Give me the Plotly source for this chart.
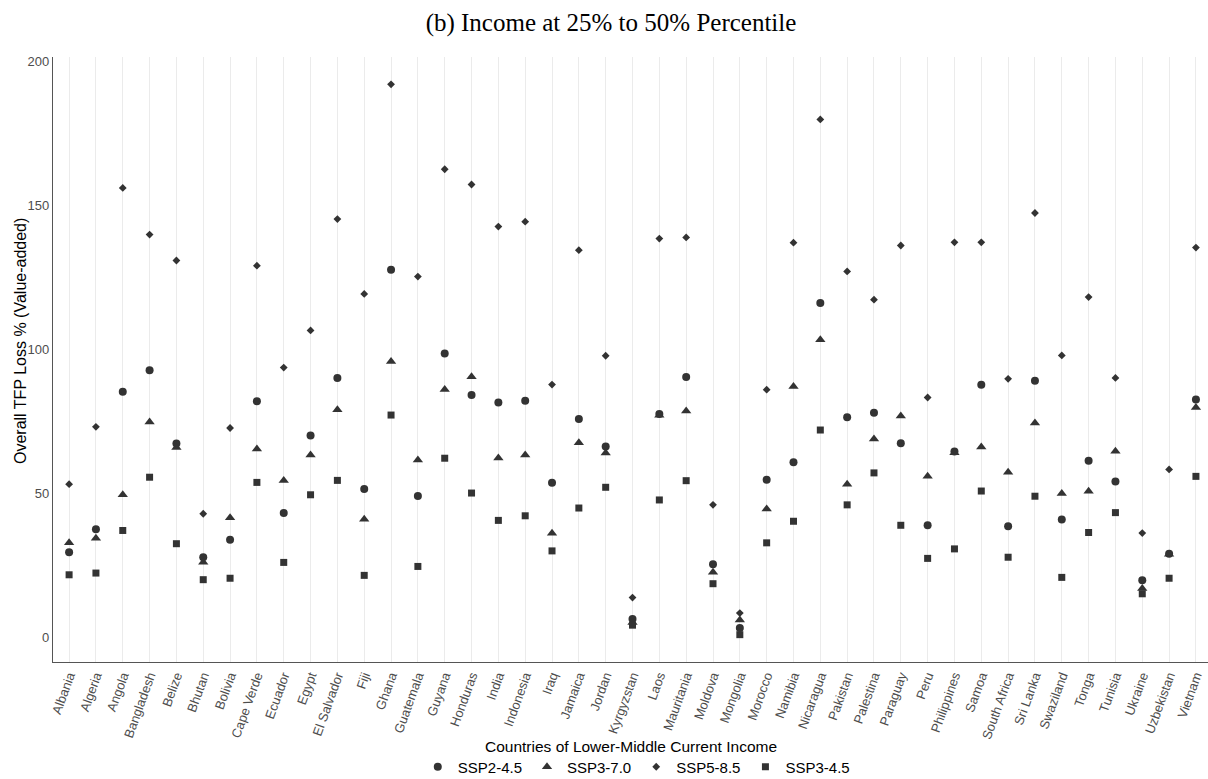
import plotly.graph_objects as go

countries = [
    "Albania", "Algeria", "Angola", "Bangladesh", "Belize", "Bhutan", "Bolivia",
    "Cape Verde", "Ecuador", "Egypt", "El Salvador", "Fiji", "Ghana", "Guatemala",
    "Guyana", "Honduras", "India", "Indonesia", "Iraq", "Jamaica", "Jordan",
    "Kyrgyzstan", "Laos", "Mauritania", "Moldova", "Mongolia", "Morocco", "Namibia",
    "Nicaragua", "Pakistan", "Palestina", "Paraguay", "Peru", "Philippines", "Samoa",
    "South Africa", "Sri Lanka", "Swaziland", "Tonga", "Tunisia", "Ukraine",
    "Uzbekistan", "Vietnam",
]

ssp2_45 = [
    29.6, 37.6, 85.4, 92.9, 67.4, 27.9, 34.0, 82.1, 43.3, 70.2, 90.2, 51.6, 127.8, 49.2,
    98.7, 84.3, 81.7, 82.3, 53.8, 75.9, 66.4, 6.4, 77.7, 90.5, 25.5, 3.3, 54.8, 60.9,
    116.2, 76.5, 78.1, 67.5, 39.0, 64.6, 87.8, 38.7, 89.2, 41.0, 61.4, 54.2, 19.9,
    29.1, 82.7,
]

ssp3_70 = [
    32.9, 34.5, 49.6, 74.9, 66.0, 26.2, 41.6, 65.5, 54.6, 63.4, 79.1, 41.1, 95.9, 61.7,
    86.2, 90.6, 62.4, 63.4, 36.2, 67.7, 64.1, 5.2, 77.2, 78.7, 22.7, 6.1, 44.7, 87.2,
    103.5, 53.3, 69.0, 77.0, 56.0, 64.2, 66.2, 57.4, 74.5, 50.0, 50.8, 64.7, 17.0,
    28.9, 79.9,
]

ssp5_85 = [
    53.3, 73.2, 156.2, 140.0, 131.0, 43.0, 72.8, 129.2, 93.8, 106.7, 145.4, 119.4, 192.2,
    125.4, 162.7, 157.4, 142.8, 144.5, 87.9, 134.6, 97.9, 13.9, 138.6, 139.0, 46.1, 8.5,
    86.1, 137.2, 180.0, 127.2, 117.4, 136.2, 83.4, 137.3, 137.3, 89.9, 147.5, 98.0,
    118.3, 90.2, 36.3, 58.4, 135.5,
]

ssp3_45 = [
    21.8, 22.4, 37.2, 55.7, 32.6, 20.1, 20.6, 53.9, 26.1, 49.6, 54.6, 21.6, 77.3, 24.7,
    62.3, 50.2, 40.7, 42.3, 30.1, 45.0, 52.2, 4.3, 47.8, 54.5, 18.7, 1.0, 32.9, 40.4,
    72.1, 46.1, 57.2, 39.0, 27.5, 30.8, 50.9, 27.9, 49.1, 20.9, 36.5, 43.4, 15.2,
    20.6, 56.0,
]

y_ticks = [0, 50, 100, 150, 200]

series = [
    ("SSP2-4.5", ssp2_45, "circle", 8),
    ("SSP3-7.0", ssp3_70, "triangle-up", 9),
    ("SSP5-8.5", ssp5_85, "diamond", 6),
    ("SSP3-4.5", ssp3_45, "square", 7),
]

mark_color = "#333333"
text_gray = "#4d4d4d"

fig = go.Figure()
for name, vals, symbol, size in series:
    fig.add_trace(go.Scatter(
        x=countries, y=vals, mode="markers", name=name,
        marker=dict(symbol=symbol, size=size, color=mark_color, line=dict(width=0)),
    ))

fig.update_layout(
    width=1208, height=779,
    margin=dict(l=53, r=0, t=57, b=117),
    paper_bgcolor="white", plot_bgcolor="white",
    font=dict(family="Liberation Sans, Arial, sans-serif", color="black"),
    title=dict(
        text="(b) Income at 25% to 50% Percentile",
        font=dict(family="Liberation Serif, serif", size=25, color="black"),
        x=611 / 1208, xref="container", xanchor="center",
        y=1 - 22 / 779, yref="container", yanchor="middle",
    ),
    showlegend=True,
    legend=dict(
        orientation="h", x=0.505, xanchor="center",
        y=1 - 767 / 779, yref="container", yanchor="middle",
        font=dict(size=15, color="black"), itemwidth=30, tracegroupgap=0,
    ),
)

fig.update_xaxes(
    type="category", categoryorder="array", categoryarray=countries,
    range=[-0.6, 42.45],
    tickangle=-70, tickfont=dict(size=13, color=text_gray),
    showgrid=True, gridcolor="#ebebeb", gridwidth=1,
    showline=True, linecolor="#555555", linewidth=1.2,
    ticks="", zeroline=False,
)
fig.update_yaxes(
    range=[-8.5, 201.7], tickvals=y_ticks, ticktext=[str(v) for v in y_ticks],
    tickfont=dict(size=13, color=text_gray),
    showgrid=False, zeroline=False,
    showline=True, linecolor="#555555", linewidth=1.2,
    ticks="",
)

fig.add_annotation(
    text="Countries of Lower-Middle Current Income", showarrow=False,
    xref="paper", yref="paper", x=0.5, y=-(746 - 662) / 605,
    xanchor="center", yanchor="middle", font=dict(size=15.5, color="black"),
)
fig.add_annotation(
    text="Overall TFP Loss % (Value-added)", showarrow=False, textangle=-90,
    xref="paper", yref="paper", x=(20 - 53) / 1155, y=(662 - 341) / 605,
    xanchor="center", yanchor="middle", font=dict(size=16, color="black"),
)

fig.write_html("out.html")
